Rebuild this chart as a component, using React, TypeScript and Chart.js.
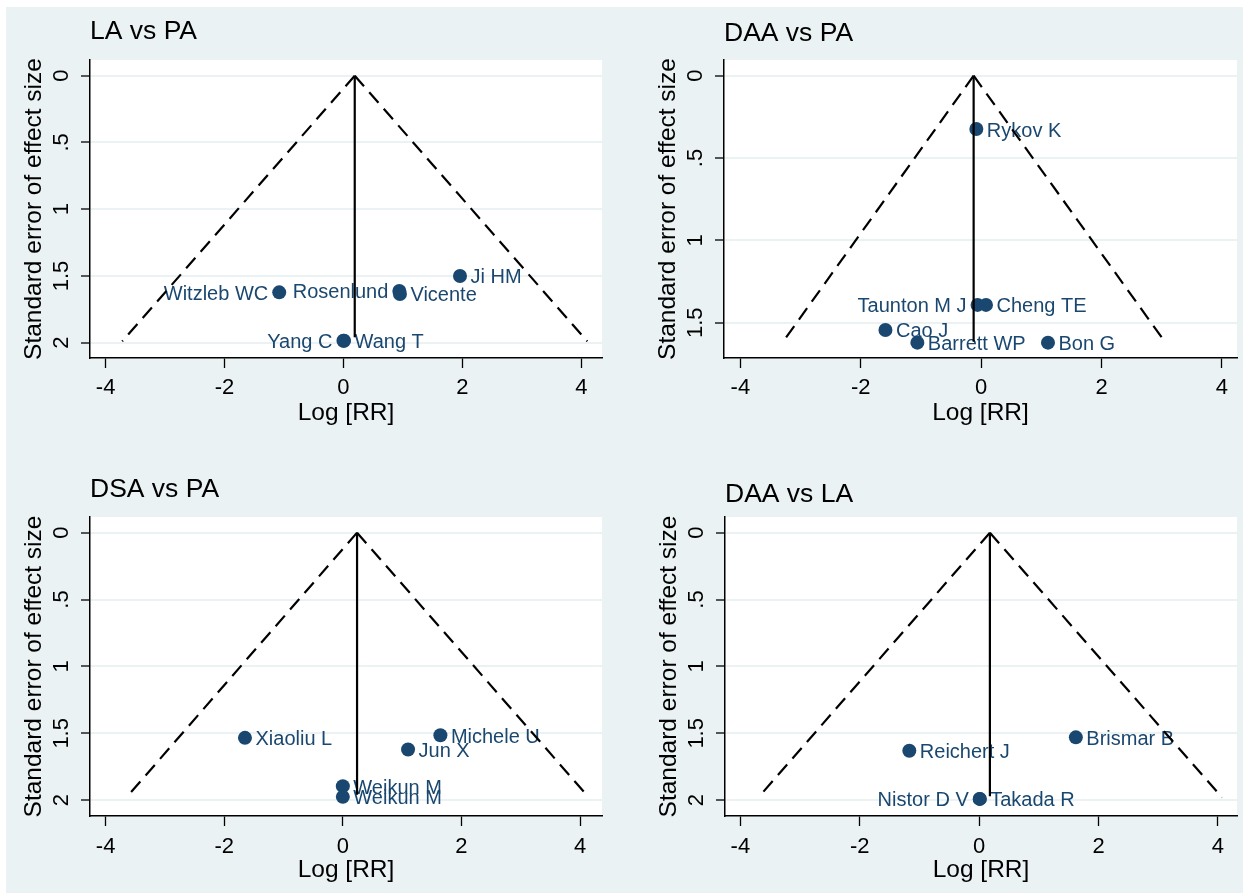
import React, { useEffect, useRef } from 'react';
import { Chart, registerables } from 'chart.js';

Chart.register(...registerables);

const FONT = '"Liberation Sans", Arial, Helvetica, sans-serif';
const NAVY = '#1a476f';
const BG = '#eaf2f3';

// ---------- shared ticks ----------
const xTicks = [-4, -2, 0, 2, 4];
const xTickLabels = ['-4', '-2', '0', '2', '4'];
const yTicksFull = [0, 0.5, 1, 1.5, 2];
const yTickLabelsFull = ['0', '.5', '1', '1.5', '2'];
const yTicksShort = [0, 0.5, 1, 1.5];
const yTickLabelsShort = ['0', '.5', '1', '1.5'];

// ---------- LA vs PA ----------
const laPaStudies = ['Ji HM', 'Witzleb WC', 'Rosenlund', 'Vicente', 'Yang C', 'Wang T'];
const laPaLogRR = [1.96, -1.08, 0.94, 0.95, 0.0, 0.01];
const laPaSE = [1.5, 1.623, 1.612, 1.635, 1.985, 1.985];
const laPaSide = ['r', 'l', 'l', 'r', 'l', 'r'];
const laPaFunnelX = [-3.72, 0.19, 4.1];
const laPaFunnelY = [1.99, 0, 1.99];
const laPaPooledX = [0.19, 0.19];
const laPaPooledY = [0, 1.96];

// ---------- DAA vs PA ----------
const daaPaStudies = ['Rykov K', 'Taunton M J', 'Cheng TE', 'Cao J', 'Barrett WP', 'Bon G'];
const daaPaLogRR = [-0.08, -0.06, 0.08, -1.59, -1.06, 1.11];
const daaPaSE = [0.324, 1.392, 1.392, 1.544, 1.621, 1.621];
const daaPaSide = ['r', 'l', 'r', 'r', 'r', 'r'];
const daaPaFunnelX = [-3.3, -0.125, 3.06];
const daaPaFunnelY = [1.62, 0, 1.62];
const daaPaPooledX = [-0.125, -0.125];
const daaPaPooledY = [0, 1.615];

// ---------- DSA vs PA ----------
const dsaPaStudies = ['Xiaoliu L', 'Michele U', 'Jun X', 'Weikun M', 'Weikun M'];
const dsaPaLogRR = [-1.65, 1.645, 1.1, 0.0, 0.0];
const dsaPaSE = [1.534, 1.514, 1.621, 1.895, 1.975];
const dsaPaSide = ['r', 'r', 'r', 'r', 'r'];
const dsaPaFunnelX = [-3.63, 0.24, 4.13];
const dsaPaFunnelY = [1.97, 0, 1.97];
const dsaPaPooledX = [0.24, 0.24];
const dsaPaPooledY = [0, 1.96];

// ---------- DAA vs LA ----------
const daaLaStudies = ['Reichert J', 'Brismar B', 'Nistor D V', 'Takada R'];
const daaLaLogRR = [-1.17, 1.62, 0.01, 0.01];
const daaLaSE = [1.63, 1.53, 1.99, 1.99];
const daaLaSide = ['r', 'r', 'l', 'r'];
const daaLaFunnelX = [-3.7, 0.18, 4.07];
const daaLaFunnelY = [1.98, 0, 1.98];
const daaLaPooledX = [0.18, 0.18];
const daaLaPooledY = [0, 1.97];

type PanelCfg = {
  key: string;
  title: string;
  studies: string[];
  xs: number[];
  ys: number[];
  sides: string[];
  funnelX: number[];
  funnelY: number[];
  pooledX: number[];
  pooledY: number[];
  yTicks: number[];
  yTickLabels: string[];
  xMin: number; xMax: number; yMin: number; yMax: number;
  left: number; top: number; width: number; height: number;
  yScaleWidth: number; padRight: number;
  titlePadTop: number; titlePadBottom: number;
  xScaleHeight: number; xTickPad: number; xTitlePadBottom: number;
  yTitlePadTop: number;
};

const panels: PanelCfg[] = [
  {
    key: 'p1', title: 'LA vs PA',
    studies: laPaStudies, xs: laPaLogRR, ys: laPaSE, sides: laPaSide,
    funnelX: laPaFunnelX, funnelY: laPaFunnelY, pooledX: laPaPooledX, pooledY: laPaPooledY,
    yTicks: yTicksFull, yTickLabels: yTickLabelsFull,
    xMin: -4.262, xMax: 4.348, yMin: -0.1176, yMax: 2.1146,
    left: 6, top: 7, width: 614, height: 443,
    yScaleWidth: 84, padRight: 18,
    titlePadTop: 8.8, titlePadBottom: 12.4,
    xScaleHeight: 92, xTickPad: 6.8, xTitlePadBottom: 22,
    yTitlePadTop: 13.8,
  },
  {
    key: 'p2', title: 'DAA vs PA',
    studies: daaPaStudies, xs: daaPaLogRR, ys: daaPaSE, sides: daaPaSide,
    funnelX: daaPaFunnelX, funnelY: daaPaFunnelY, pooledX: daaPaPooledX, pooledY: daaPaPooledY,
    yTicks: yTicksShort, yTickLabels: yTickLabelsShort,
    xMin: -4.272, xMax: 4.25, yMin: -0.0953, yMax: 1.7143,
    left: 620, top: 7, width: 623, height: 443,
    yScaleWidth: 104, padRight: 6,
    titlePadTop: 10.4, titlePadBottom: 10.8,
    xScaleHeight: 92, xTickPad: 6.8, xTitlePadBottom: 22,
    yTitlePadTop: 33.8,
  },
  {
    key: 'p3', title: 'DSA vs PA',
    studies: dsaPaStudies, xs: dsaPaLogRR, ys: dsaPaSE, sides: dsaPaSide,
    funnelX: dsaPaFunnelX, funnelY: dsaPaFunnelY, pooledX: dsaPaPooledX, pooledY: dsaPaPooledY,
    yTicks: yTicksFull, yTickLabels: yTickLabelsFull,
    xMin: -4.263, xMax: 4.37, yMin: -0.117, yMax: 2.118,
    left: 6, top: 450, width: 614, height: 443,
    yScaleWidth: 84, padRight: 18,
    titlePadTop: 24.1, titlePadBottom: 11.1,
    xScaleHeight: 77, xTickPad: 7.8, xTitlePadBottom: 7.6,
    yTitlePadTop: 13.8,
  },
  {
    key: 'p4', title: 'DAA vs LA',
    studies: daaLaStudies, xs: daaLaLogRR, ys: daaLaSE, sides: daaLaSide,
    funnelX: daaLaFunnelX, funnelY: daaLaFunnelY, pooledX: daaLaPooledX, pooledY: daaLaPooledY,
    yTicks: yTicksFull, yTickLabels: yTickLabelsFull,
    xMin: -4.258, xMax: 4.32, yMin: -0.117, yMax: 2.118,
    left: 620, top: 450, width: 623, height: 443,
    yScaleWidth: 105, padRight: 6,
    titlePadTop: 28.3, titlePadBottom: 6.9,
    xScaleHeight: 77, xTickPad: 7.8, xTitlePadBottom: 7.6,
    yTitlePadTop: 34.8,
  },
];

const plotAreaBg = {
  id: 'plotAreaBg',
  beforeDraw(chart: any) {
    const { ctx, chartArea } = chart;
    if (!chartArea) return;
    ctx.save();
    ctx.fillStyle = '#ffffff';
    ctx.fillRect(chartArea.left, chartArea.top, chartArea.right - chartArea.left, chartArea.bottom - chartArea.top);
    ctx.restore();
  },
};

const pointLabels = {
  id: 'pointLabels',
  afterDatasetDraw(chart: any, args: any, opts: any) {
    if (args.index !== 0 || !opts || !opts.labels) return;
    const meta = chart.getDatasetMeta(0);
    const ctx = chart.ctx;
    ctx.save();
    ctx.font = `20px ${FONT}`;
    ctx.fillStyle = NAVY;
    ctx.textBaseline = 'alphabetic';
    meta.data.forEach((el: any, i: number) => {
      const side = opts.sides[i];
      const label = opts.labels[i];
      if (side === 'l') {
        ctx.textAlign = 'right';
        ctx.fillText(label, el.x - 11, el.y + 7.5);
      } else {
        ctx.textAlign = 'left';
        ctx.fillText(label, el.x + 10.5, el.y + 7.5);
      }
    });
    ctx.restore();
  },
};

function FunnelPanel({ cfg }: { cfg: PanelCfg }) {
  const ref = useRef<HTMLCanvasElement | null>(null);
  useEffect(() => {
    if (!ref.current) return;
    const pts = cfg.xs.map((x, i) => ({ x, y: cfg.ys[i] }));
    const leftLine = [
      { x: cfg.funnelX[1], y: cfg.funnelY[1] },
      { x: cfg.funnelX[0], y: cfg.funnelY[0] },
    ];
    const rightLine = [
      { x: cfg.funnelX[1], y: cfg.funnelY[1] },
      { x: cfg.funnelX[2], y: cfg.funnelY[2] },
    ];
    const pooled = cfg.pooledX.map((x, i) => ({ x, y: cfg.pooledY[i] }));
    const lineCommon = {
      showLine: true,
      pointRadius: 0,
      pointHoverRadius: 0,
      borderColor: '#000000',
      borderWidth: 2.2,
      fill: false,
      tension: 0,
    };
    const chart = new Chart(ref.current, {
      type: 'scatter',
      data: {
        datasets: [
          {
            data: pts,
            order: 2,
            pointRadius: 7,
            pointHoverRadius: 7,
            pointBackgroundColor: NAVY,
            pointBorderColor: NAVY,
            pointBorderWidth: 0,
            showLine: false,
          } as any,
          { ...lineCommon, data: leftLine, order: 1, borderDash: [14, 8] } as any,
          { ...lineCommon, data: rightLine, order: 1, borderDash: [14, 8] } as any,
          { ...lineCommon, data: pooled, order: 0 } as any,
        ],
      },
      options: {
        responsive: false,
        animation: false,
        devicePixelRatio: 1,
        layout: { autoPadding: false, padding: { left: 0, top: 0, bottom: 0, right: cfg.padRight } },
        plugins: {
          legend: { display: false },
          tooltip: { enabled: false },
          title: {
            display: true,
            text: cfg.title,
            align: 'start',
            fullSize: false,
            color: '#000000',
            font: { family: FONT, size: 26.5, weight: 'normal' },
            padding: { top: cfg.titlePadTop, bottom: cfg.titlePadBottom },
          },
          pointLabels: { labels: cfg.studies, sides: cfg.sides },
        } as any,
        scales: {
          x: {
            type: 'linear',
            position: 'bottom',
            min: cfg.xMin,
            max: cfg.xMax,
            afterBuildTicks: (s: any) => { s.ticks = xTicks.map((v) => ({ value: v })); },
            afterFit: (s: any) => { s.height = cfg.xScaleHeight; },
            ticks: {
              autoSkip: false,
              minRotation: 0,
              maxRotation: 0,
              padding: cfg.xTickPad,
              color: '#000000',
              font: { family: FONT, size: 22 },
              callback: (_v: any, i: number) => xTickLabels[i],
            },
            grid: {
              display: true,
              drawOnChartArea: false,
              drawTicks: true,
              tickLength: 10,
              tickColor: '#000000',
              tickWidth: 1.3,
            },
            border: { display: true, color: '#000000', width: 1.5 },
            title: {
              display: true,
              text: 'Log [RR]',
              color: '#000000',
              font: { family: FONT, size: 24.5 },
              padding: { top: 0, bottom: cfg.xTitlePadBottom },
            },
          } as any,
          y: {
            type: 'linear',
            position: 'left',
            reverse: true,
            min: cfg.yMin,
            max: cfg.yMax,
            afterBuildTicks: (s: any) => { s.ticks = cfg.yTicks.map((v) => ({ value: v })); },
            afterFit: (s: any) => { s.width = cfg.yScaleWidth; },
            ticks: {
              autoSkip: false,
              minRotation: 90,
              maxRotation: 90,
              crossAlign: 'center',
              padding: 3.7,
              color: '#000000',
              font: { family: FONT, size: 22 },
              callback: (_v: any, i: number) => cfg.yTickLabels[i],
            },
            grid: {
              display: true,
              drawOnChartArea: true,
              color: BG,
              lineWidth: 2,
              drawTicks: true,
              tickLength: 9,
              tickColor: '#000000',
              tickWidth: 1.3,
            },
            border: { display: true, color: '#000000', width: 1.5 },
            title: {
              display: true,
              text: 'Standard error of effect size',
              color: '#000000',
              font: { family: FONT, size: 24.5 },
              padding: { top: cfg.yTitlePadTop, bottom: 0 },
            },
          } as any,
        },
      },
      plugins: [plotAreaBg, pointLabels],
    } as any);
    return () => chart.destroy();
  }, [cfg]);

  return (
    <canvas
      ref={ref}
      width={cfg.width}
      height={cfg.height}
      style={{ position: 'absolute', left: cfg.left, top: cfg.top, width: cfg.width, height: cfg.height }}
    />
  );
}

export default function App() {
  return (
    <div style={{ position: 'absolute', left: 0, top: 0, width: 1243, height: 893, background: '#ffffff', overflow: 'hidden' }}>
      <div style={{ position: 'absolute', left: 6, top: 7, width: 1237, height: 886, background: BG }} />
      {panels.map((p) => (
        <FunnelPanel key={p.key} cfg={p} />
      ))}
    </div>
  );
}
